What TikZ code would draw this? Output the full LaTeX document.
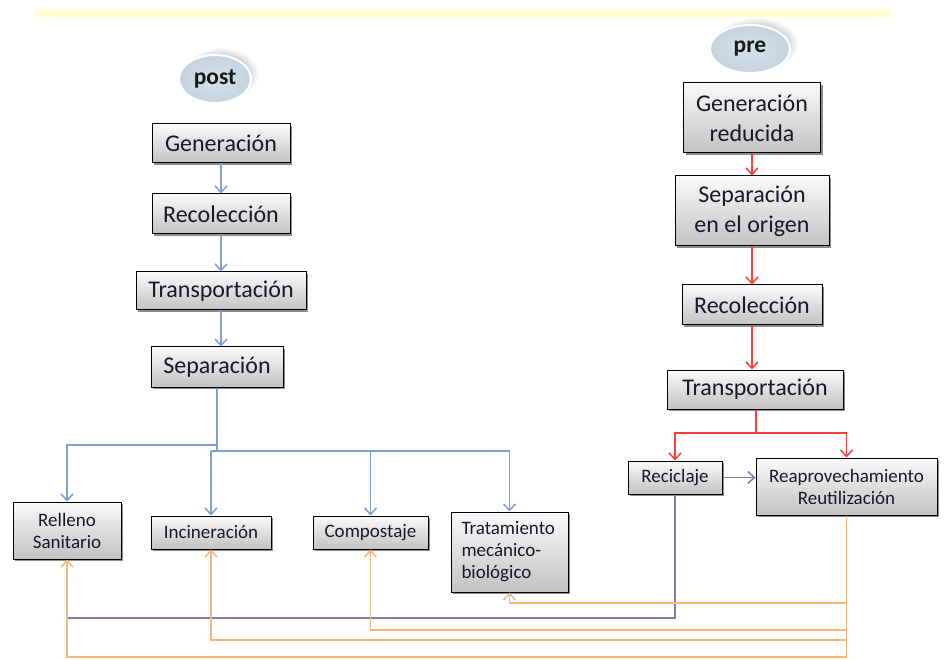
\documentclass[tikz,border=0pt]{standalone}
\usepackage{fontspec}
\usetikzlibrary{arrows.meta,shapes.geometric,shadows}
\newfontfamily\carlito{Carlito}
\newcommand{\mainfnt}{\carlito\fontsize{24}{30}\selectfont}
\newcommand{\minorfnt}{\carlito\fontsize{19}{22}\selectfont}
\newcommand{\tagfnt}{\carlito\bfseries\fontsize{23.5}{26}\selectfont}
\definecolor{boxtext}{RGB}{25,25,40}
\definecolor{blueflow}{RGB}{122,162,212}
\definecolor{redflow}{RGB}{255,60,60}
\definecolor{purpleflow}{RGB}{140,120,170}
\definecolor{orangeflow}{RGB}{250,182,125}
\definecolor{barcol}{RGB}{254,254,206}
\definecolor{tagfill}{RGB}{196,212,222}
\tikzset{
  stepbox/.style={draw=black, line width=1pt, top color=gray!4, bottom color=gray!48,
    text=boxtext, inner sep=0pt, align=center, font=\mainfnt,
    drop shadow={shadow xshift=2pt, shadow yshift=-2pt, opacity=.45, fill=black}},
  minorbox/.style={stepbox, font=\minorfnt},
  tag/.style={ellipse, draw=white, line width=2pt, inner color=tagfill!70, outer color=tagfill,
    minimum width=72pt, minimum height=48pt, inner sep=0pt, font=\tagfnt, text=black!90},
  tagshadow/.style={inner color=black!60, outer color=white},
  flow/.style={line width=1.5pt, >={Straight Barb[length=6.5pt,width=12pt,line width=1.5pt]}},
  bluearrow/.style={flow, draw=blueflow},
  redarrow/.style={flow, draw=redflow},
  purplearrow/.style={flow, draw=purpleflow, line width=1.3pt},
  orangearrow/.style={flow, draw=orangeflow},
}
\begin{document}
\begin{tikzpicture}[x=1pt, y=-1pt]
  \useasboundingbox (0,0) rectangle (948,660);
  % top banner
  \fill[barcol] (35,9) rectangle (890,17);

  % header tags with their shadows
  \shade[tagshadow] (221,74) ellipse [x radius=38pt, y radius=27pt];
  \shade[tagshadow] (756,44) ellipse [x radius=43pt, y radius=27pt];
  \node[tag] (post) at (215,79) {post};
  \node[tag, minimum width=80pt] (pre) at (750,49) {pre};

  % post-consumption chain
  \node[stepbox, minimum width=138pt, minimum height=39pt] (g1) at (221,143.5) {Generación};
  \node[stepbox, minimum width=138pt, minimum height=40pt] (r1) at (221,214) {Recolección};
  \node[stepbox, minimum width=170pt, minimum height=38pt] (t1) at (221,291) {Transportación};
  \node[stepbox, minimum width=132pt, minimum height=40pt] (s1) at (217,367) {Separación};

  \node[minorbox, minimum width=108pt, minimum height=57pt] (rs) at (67,530.5) {Relleno\\Sanitario};
  \node[minorbox, minimum width=120pt, minimum height=33pt] (inc) at (211,532.5) {Incineración};
  \node[minorbox, minimum width=115pt, minimum height=33pt] (comp) at (370.5,532.5) {Compostaje};
  \node[minorbox, align=left, text width=96pt, inner xsep=10.5pt, minimum height=80pt] (tmb) at (509.5,552)
    {Tratamiento\\mecánico-\\biológico};

  % pre-consumption chain
  \node[stepbox, minimum width=137pt, minimum height=70pt] (g2) at (752,118) {Generación\\reducida};
  \node[stepbox, minimum width=154pt, minimum height=70pt] (so) at (752,211) {Separación\\en el origen};
  \node[stepbox, minimum width=140pt, minimum height=40pt] (r2) at (752,305) {Recolección};
  \node[stepbox, minimum width=176pt, minimum height=39pt] (t2) at (755,389.5) {Transportación};

  \node[minorbox, minimum width=94pt, minimum height=33pt] (rec) at (675,477.5) {Reciclaje};
  \node[minorbox, minimum width=181pt, minimum height=57pt] (rr) at (846.5,486.5) {Reaprovechamiento\\Reutilización};

  % junction levels
  \coordinate (bsplit) at (217,445);
  \coordinate (bjoin) at (217,451);
  \coordinate (rjoin) at (756,433);
  \coordinate (plevel) at (0,618);
  \coordinate (olevA) at (0,603);
  \coordinate (olevB) at (0,630);
  \coordinate (olevC) at (0,640);
  \coordinate (olevD) at (0,657);

  % blue connectors
  \draw[bluearrow,->] (g1) -- (r1);
  \draw[bluearrow,->] (r1) -- (t1);
  \draw[bluearrow,->] (t1.south) -- (t1.south |- s1.north);
  \draw[bluearrow] (s1.south) -- (bjoin);
  \draw[bluearrow,->] (bsplit) -| (rs.north);
  \draw[bluearrow,->] (inc.north |- bjoin) -| (tmb.north);
  \draw[bluearrow,->] (inc.north |- bjoin) -- (inc.north);
  \draw[bluearrow,->] (comp.north |- bjoin) -- (comp.north);

  % red connectors
  \draw[redarrow,->] (g2) -- (so);
  \draw[redarrow,->] (so) -- (r2);
  \draw[redarrow,->] (r2.south) -- (r2.south |- t2.north);
  \draw[redarrow] (t2.south -| rjoin) -- (rjoin);
  \draw[redarrow,->] (rjoin) -| (rec.north);
  \draw[redarrow,->] (rjoin) -| (rr.north);

  % purple connectors
  \draw[purplearrow,->] (rec.east) -- (rec.east -| rr.west);
  \draw[purplearrow] (rec.south) |- (rs.south |- plevel);

  % orange connectors
  \draw[orangearrow] (rr.south) -- (rr.south |- olevD);
  \draw[orangearrow,->] (rr.south |- olevA) -| (tmb.south);
  \draw[orangearrow,->] (rr.south |- olevB) -| (comp.south);
  \draw[orangearrow,->] (rr.south |- olevC) -| (inc.south);
  \draw[orangearrow,->] (rr.south |- olevD) -| (rs.south);
\end{tikzpicture}
\end{document}
